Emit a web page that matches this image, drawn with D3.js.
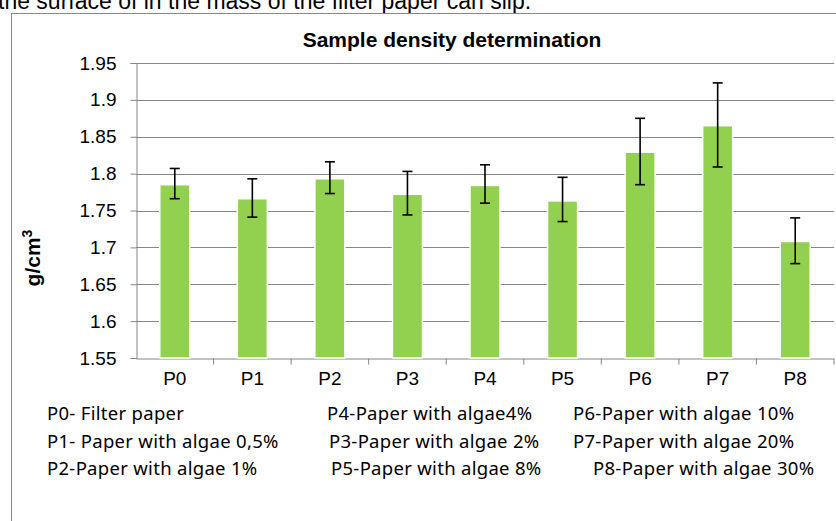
<!DOCTYPE html>
<html><head><meta charset="utf-8">
<script src="https://cdn.jsdelivr.net/npm/d3@7"></script>
<style>body{margin:0;background:#fff;font-family:"Liberation Sans",Arial,sans-serif}</style>
</head><body><svg id="c" width="836" height="521"></svg>
<script>
var categories = ["P0","P1","P2","P3","P4","P5","P6","P7","P8"];
var values = [1.785,1.766,1.793,1.772,1.784,1.763,1.829,1.865,1.708];
var errLow = [1.766,1.741,1.773,1.744,1.760,1.735,1.785,1.809,1.678];
var errHigh = [1.807,1.793,1.816,1.803,1.812,1.795,1.875,1.923,1.740];
var yTicks = [1.55,1.6,1.65,1.7,1.75,1.8,1.85,1.9,1.95];
var legendRows = [
  ["P0- Filter paper","P4-Paper with algae4%","P6-Paper with algae 10%"],
  ["P1- Paper with algae 0,5%","P3-Paper with algae 2%","P7-Paper with algae 20%"],
  ["P2-Paper with algae 1%","P5-Paper with algae 8%","P8-Paper with algae 30%"]
];
var legendX = [[47,327,573],[47,329,573],[47,331,593]];

var svg = d3.select("#c");
var plotLeft = 136, plotRight = 834, plotTop = 63, plotBottom = 358;

svg.append("text").text("the surface of in the mass of the filter paper can slip.")
  .attr("x", -2).attr("y", 9).style("font-size", "23px");
svg.append("rect").attr("x", 11.5).attr("y", 13.5).attr("width", 840).attr("height", 520)
  .attr("fill", "#fff").attr("stroke", "#888");

var x = d3.scaleBand().domain(categories).range([plotLeft, plotRight]);
var y = d3.scaleLinear().domain([1.55, 1.95]).range([plotBottom, plotTop]);

//grid lines
svg.append("g").selectAll("line").data(yTicks.slice(1)).enter().append("line")
  .attr("x1", plotLeft).attr("x2", plotRight)
  .attr("y1", function(d){ return Math.round(y(d)) + 0.5; })
  .attr("y2", function(d){ return Math.round(y(d)) + 0.5; })
  .attr("stroke", "#868686").attr("stroke-width", 1);

var yAxis = svg.append("g").attr("transform", "translate(" + (plotLeft + 0.5) + ",0)")
  .call(d3.axisLeft(y).tickValues(yTicks).tickSize(6).tickPadding(14).tickFormat(d3.format("")));
yAxis.selectAll("text").style("font-size", "19px").style("font-family", "Liberation Sans, Arial").attr("fill", "#000");
yAxis.selectAll("line,path").attr("stroke", "#868686");

var xAxis = svg.append("g").attr("transform", "translate(0," + (plotBottom + 0.5) + ")")
  .call(d3.axisBottom(x).tickSize(0).tickPadding(13));
xAxis.selectAll("text").style("font-size", "19px").style("font-family", "Liberation Sans, Arial").attr("fill", "#000");
xAxis.select("path").attr("stroke", "#868686");
xAxis.selectAll(".sep").data(categories).enter().append("line")
  .attr("x1", function(d){ return x(d) + x.bandwidth(); }).attr("x2", function(d){ return x(d) + x.bandwidth(); })
  .attr("y1", 0).attr("y2", 6).attr("stroke", "#868686");

var bw = 30;
svg.append("g").selectAll("rect").data(values).enter().append("rect")
  .attr("x", function(d, i){ return x(categories[i]) + x.bandwidth()/2 - bw/2; })
  .attr("y", function(d){ return y(d); })
  .attr("width", bw).attr("height", function(d){ return plotBottom - y(d); })
  .attr("fill", "#92d050").attr("stroke", "#fff").attr("stroke-width", 1.5);

var eb = svg.append("g").attr("stroke", "#000").attr("stroke-width", 1.6);
categories.forEach(function(c, i) {
  var cx = x(c) + x.bandwidth()/2;
  eb.append("line").attr("x1", cx).attr("x2", cx).attr("y1", y(errLow[i])).attr("y2", y(errHigh[i]));
  [errLow[i], errHigh[i]].forEach(function(v) {
    eb.append("line").attr("x1", cx - 5).attr("x2", cx + 5).attr("y1", y(v)).attr("y2", y(v));
  });
});

svg.append("text").text("Sample density determination").attr("x", 452).attr("y", 47)
  .attr("text-anchor", "middle").style("font-weight", "bold").style("font-size", "21px");

svg.append("text").attr("transform", "translate(40,258) rotate(-90)").attr("text-anchor", "middle")
  .style("font-weight", "bold").style("font-size", "21px")
  .html('g/cm<tspan dy="-8" font-size="14">3</tspan>');

legendRows.forEach(function(row, r) {
  row.forEach(function(t, k) {
    svg.append("text").text(t).attr("x", legendX[r][k]).attr("y", 420 + r * 27.5)
      .style("font-family", "Noto Sans").style("font-size", "18.5px").style("letter-spacing", "0.3px");
  });
});
</script></body></html>
